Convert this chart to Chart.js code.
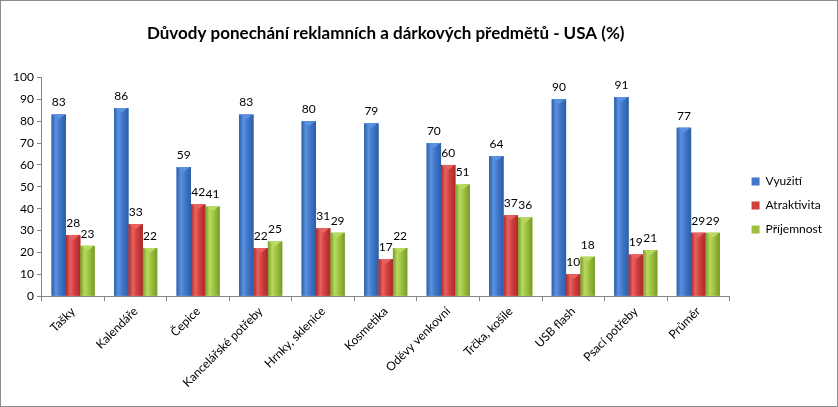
<!DOCTYPE html>
<html>
<head>
<meta charset="utf-8">
<script src="https://cdn.jsdelivr.net/npm/chart.js@4.4.1/dist/chart.umd.min.js"></script>
<style>
  html, body { margin: 0; padding: 0; background: #fff; }
  #wrap { width: 838px; height: 407px; box-sizing: border-box; border: 1px solid #8c8c8c; position: relative; }
</style>
</head>
<body>
<div id="wrap"><canvas id="chart"></canvas></div>
<script>
(function () {
    "use strict";

    // Data
    var categories = ["Tašky", "Kalendáře", "Čepice", "Kancelářské potřeby", "Hrnky, sklenice",
        "Kosmetika", "Oděvy venkovní", "Trčka, košile", "USB flash", "Psací potřeby", "Průměr"];
    var vyuziti = [83, 86, 59, 83, 80, 79, 70, 64, 90, 91, 77];
    var atraktivita = [28, 33, 42, 22, 31, 17, 60, 37, 10, 19, 29];
    var prijemnost = [23, 22, 41, 25, 29, 22, 51, 36, 18, 21, 29];

    var FONT = "Lato, 'Open Sans', sans-serif";
    Chart.defaults.font.family = FONT;
    Chart.defaults.color = "#000";

    // shading per series: [edge, middle, highlight]
    var shades = [
        ["#2c5ea8", "#3f76c6", "#5a92e0"],
        ["#a82a2a", "#d23d3d", "#e86262"],
        ["#789a2a", "#9cc23e", "#b8da60"]
    ];

    // Bar shading (Excel-like cylinder look)
    var barShade = {
        id: "barShade",
        afterDatasetsDraw: function (chart) {
            var ctx = chart.ctx;
            chart.data.datasets.forEach(function (ds, di) {
                var meta = chart.getDatasetMeta(di);
                var s = shades[di];
                meta.data.forEach(function (bar) {
                    var left = bar.x - bar.width / 2;
                    var g = ctx.createLinearGradient(left, 0, left + bar.width, 0);
                    g.addColorStop(0, s[0]);
                    g.addColorStop(0.3, s[2]);
                    g.addColorStop(0.6, s[1]);
                    g.addColorStop(1, s[0]);
                    ctx.save();
                    ctx.fillStyle = g;
                    ctx.fillRect(left, bar.y, bar.width, bar.base - bar.y);
                    // top bevel
                    ctx.fillStyle = s[2];
                    ctx.beginPath();
                    ctx.moveTo(left + 1, bar.y);
                    ctx.lineTo(left + bar.width - 1, bar.y);
                    ctx.lineTo(bar.x, bar.y + 5);
                    ctx.closePath();
                    ctx.fill();
                    ctx.restore();
                });
            });
        }
    };

    // Value labels above bars
    var valueLabels = {
        id: "valueLabels",
        afterDatasetsDraw: function (chart) {
            var ctx = chart.ctx;
            ctx.save();
            ctx.font = "12px " + FONT;
            ctx.fillStyle = "#000";
            ctx.textAlign = "center";
            ctx.textBaseline = "bottom";
            chart.data.datasets.forEach(function (ds, di) {
                chart.getDatasetMeta(di).data.forEach(function (bar, i) {
                    ctx.fillText(ds.data[i], bar.x, bar.y - 6);
                });
            });
            ctx.restore();
        }
    };

    var ctx1 = document.getElementById("chart").getContext("2d");
    var myChart1 = new Chart(ctx1, {
        type: "bar",
        data: {
            labels: categories,
            datasets: [{
                    label: "Využití",
                    data: vyuziti,
                    backgroundColor: "#3f76c6"
                },
                {
                    label: "Atraktivita",
                    data: atraktivita,
                    backgroundColor: "#d23d3d"
                },
                {
                    label: "Příjemnost",
                    data: prijemnost,
                    backgroundColor: "#9cc23e"
                }
            ]
        },
        options: {
            responsive: true,
            maintainAspectRatio: false,
            animation: false,
            layout: { padding: { left: 9, right: -3, top: 0, bottom: 13 } },
            datasets: {
                bar: { categoryPercentage: 0.69, barPercentage: 1.0 }
            },
            plugins: {
                title: {
                    display: true,
                    fullSize: false,
                    text: "Důvody ponechání reklamních a dárkových předmětů - USA (%)",
                    font: { size: 17, weight: "bold" },
                    color: "#000",
                    padding: { top: 22, bottom: 34 }
                },
                legend: {
                    position: "right",
                    title: { display: true, text: " ", padding: 0, font: { size: 14 } },
                    labels: {
                        boxWidth: 8,
                        boxHeight: 8,
                        padding: 12,
                        font: { size: 12 },
                        color: "#000"
                    }
                },
                tooltip: { enabled: false }
            },
            scales: {
                x: {
                    grid: {
                        offset: true,
                        drawOnChartArea: false,
                        drawTicks: true,
                        tickLength: 5,
                        color: "#868686"
                    },
                    border: { color: "#868686" },
                    ticks: {
                        minRotation: 45,
                        maxRotation: 45,
                        font: { size: 12 },
                        color: "#000"
                    }
                },
                y: {
                    min: 0,
                    max: 100,
                    grid: {
                        drawOnChartArea: false,
                        drawTicks: true,
                        tickLength: 5,
                        color: "#868686"
                    },
                    border: { color: "#868686" },
                    ticks: {
                        stepSize: 10,
                        font: { size: 12 },
                        color: "#000"
                    }
                }
            }
        },
        plugins: [barShade, valueLabels]
    });

    // leave a wider gap between plot and legend
    var legend = myChart1.legend;
    var baseFit = legend.fit;
    legend.fit = function () {
        baseFit.call(this);
        this.width += 18;
    };
    var baseDraw = legend.draw;
    legend.draw = function () {
        var c = this.ctx;
        c.save();
        c.translate(10, 0);
        baseDraw.apply(this, arguments);
        c.restore();
    };
    myChart1.update();
})();
</script>
</body>
</html>
